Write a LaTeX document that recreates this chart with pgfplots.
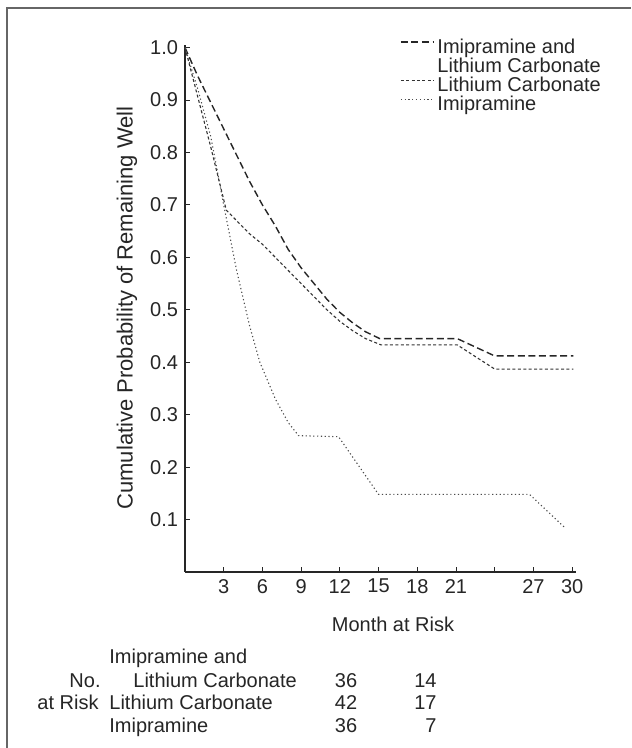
\documentclass[border=0pt]{standalone}
\usepackage{fontspec}
\setmainfont{Liberation Sans}
\usepackage{pgfplots}
\pgfplotsset{compat=1.18}
\begin{document}
\begin{tikzpicture}[x=0.5pt,y=0.5pt, font=\fontsize{10}{11}\selectfont]
\path[use as bounding box] (0,0) rectangle (631,748);
\fill[white] (0,0) rectangle (631,748);
\draw[black!60, line width=0.6pt] (7,0) -- (7,740) -- (631,740);
\begin{axis}[
  at={(92.5pt,88pt)}, anchor=south west,
  scale only axis, width=195.5pt, height=263.5pt,
  xmin=0, xmax=30.3, ymin=0, ymax=1.005,
  axis lines=left, axis line style={-, black!85, line width=0.6pt},
  xtick={3,6,9,12,15,18,21,24,27,30},
  xticklabels={3,6,9,12,15,18,21,,27,30},
  ytick={0.1,0.2,0.3,0.4,0.5,0.6,0.7,0.8,0.9,1.0},
  yticklabel style={/pgf/number format/.cd, fixed, fixed zerofill, precision=1},
  /pgf/number format/assume math mode=true,
  tick align=inside, major tick length=2.5pt,
  tick style={black!85, line width=0.5pt},
  ticklabel style={font=\fontsize{10}{11}\selectfont, text=black!85},
  clip=false,
  legend style={draw=none, fill=none, at={(0.55,1.011)}, anchor=north west,
    inner sep=0pt, outer sep=0pt, row sep=0.5pt, column sep=1.5pt,
    nodes={inner sep=0pt, text height=7pt, text depth=2pt, text=black!85,
      font=\fontsize{10}{11}\selectfont},
    cells={anchor=west}},
  legend image code/.code={\draw[#1] (0pt,3pt) -- (16.5pt,3pt);},
]
\addplot[black!85, line width=0.7pt, dash pattern=on 3.5pt off 1.8pt] coordinates {
(0,1.00) (1,0.945) (2,0.895) (3,0.845) (4,0.795) (5,0.745) (6,0.70) (7,0.66)
(8,0.615) (9,0.58) (10,0.55) (11,0.52) (12,0.495) (13,0.475) (14,0.458)
(15.1,0.445) (21.1,0.445) (24.0,0.412) (30.1,0.412)};
\addlegendimage{empty legend}
\addplot[black!80, line width=0.55pt, dash pattern=on 1.5pt off 1.2pt] coordinates {
(0,1.00) (1,0.905) (2,0.81) (3.2,0.69) (4,0.67) (5,0.645) (6,0.625) (7,0.60)
(8,0.575) (9,0.55) (10,0.525) (11,0.50) (12,0.478) (13,0.46) (14,0.445)
(15.2,0.433) (21.1,0.433) (24.0,0.387) (30.1,0.387)};
\addplot[black!70, line width=0.55pt, dash pattern=on 0.6pt off 1.3pt] coordinates {
(0,1.00) (1,0.92) (2,0.83) (3,0.70) (4,0.575) (5,0.47) (5.8,0.40) (7,0.33)
(8,0.285) (8.8,0.26) (11.9,0.258) (15.0,0.148) (26.7,0.148) (29.5,0.083)};
\legend{Imipramine and, Lithium Carbonate, Lithium Carbonate, Imipramine}
\end{axis}
\begin{scope}[every node/.style={inner sep=0pt, text=black!85}]
\node[rotate=90, font=\fontsize{11}{12}\selectfont] at (127,440) {Cumulative Probability of Remaining Well};
\node at (393,124) {Month at Risk};
\node[anchor=base west] at (109,84) {Imipramine and};
\node[anchor=base east] at (101,60) {No.};
\node[anchor=base west] at (133,60) {Lithium Carbonate};
\node[anchor=base] at (346,60) {36};
\node[anchor=base east] at (437,60) {14};
\node[anchor=base east] at (99,38) {at Risk};
\node[anchor=base west] at (109,38) {Lithium Carbonate};
\node[anchor=base] at (346,38) {42};
\node[anchor=base east] at (437,38) {17};
\node[anchor=base west] at (109,16) {Imipramine};
\node[anchor=base] at (346,16) {36};
\node[anchor=base east] at (437,16) {7};
\end{scope}
\end{tikzpicture}
\end{document}
